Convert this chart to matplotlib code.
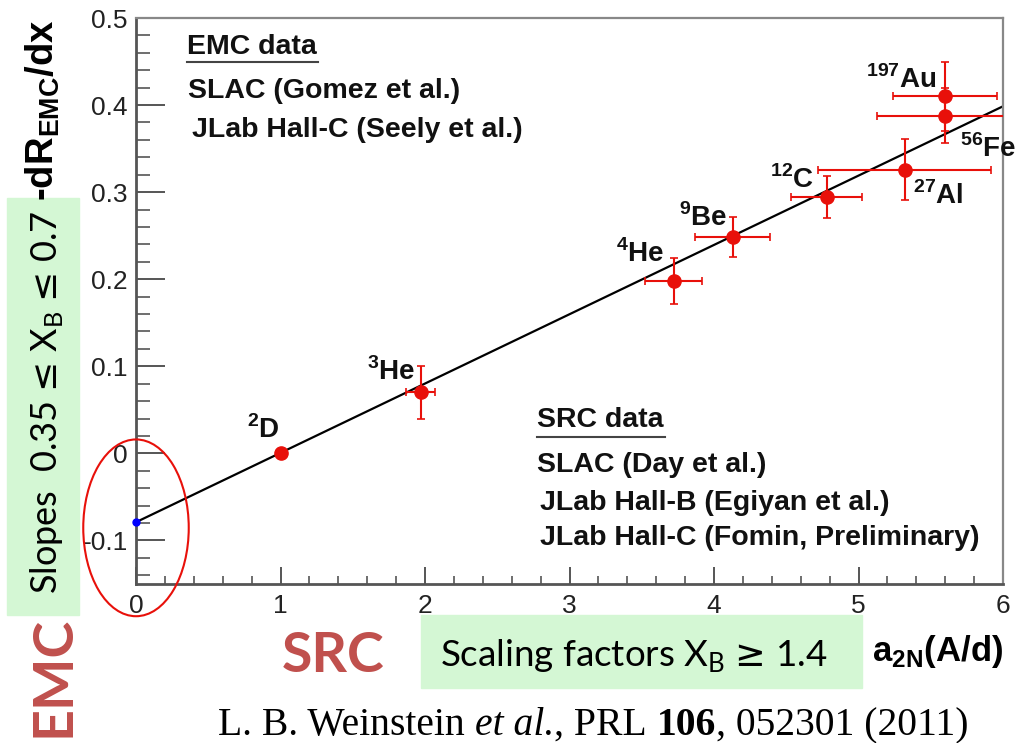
import numpy as np
import matplotlib.pyplot as plt
from matplotlib.patches import Ellipse, Rectangle
from matplotlib.lines import Line2D
from matplotlib.ticker import MultipleLocator, FuncFormatter

plt.rcParams['axes.unicode_minus'] = False
plt.rcParams['mathtext.fontset'] = 'custom'
plt.rcParams['mathtext.rm'] = 'Lato'
plt.rcParams['mathtext.sf'] = 'DejaVu Sans'
plt.rcParams['mathtext.bf'] = 'Liberation Sans:bold'

# дані: a2N (вісь x) і нахил EMC (вісь y)
nuclei = [r'$^{\mathbf{2}}$D', r'$^{\mathbf{3}}$He', r'$^{\mathbf{4}}$He', r'$^{\mathbf{9}}$Be',
          r'$^{\mathbf{12}}$C', r'$^{\mathbf{27}}$Al', r'$^{\mathbf{56}}$Fe', r'$^{\mathbf{197}}$Au']
a2n = [1.0, 1.97, 3.72, 4.13, 4.78, 5.32, 5.60, 5.60]
a2n_err = [0.0, 0.10, 0.20, 0.26, 0.245, 0.60, 0.47, 0.36]
emc_slope = [0.0, 0.070, 0.198, 0.248, 0.294, 0.326, 0.388, 0.410]
emc_slope_err = [0.0, 0.030, 0.026, 0.023, 0.024, 0.035, 0.032, 0.040]
fit_intercept = -0.079
fit_slope = 0.0796

# де стоять підписи ядер (у координатах даних)
label_pos = [(0.77, 0.018), (1.60, 0.084), (3.32, 0.2195), (3.76, 0.261),
             (4.39, 0.305), (5.38, 0.286), (5.70, 0.340), (5.05, 0.420)]

W, H = 1019, 743
RED = '#E8100A'
BRICK = '#C0504D'
GREEN = '#D4F7D4'


def fx(px):
    return px / W


def fy(py):
    return 1 - py / H


fig = plt.figure(figsize=(W / 100, H / 100), dpi=100)
ax = fig.add_axes([fx(136), fy(584), (1003 - 136) / W, (584 - 18) / H])

xs = np.array([0.0, 6.0])
ax.plot(xs, fit_intercept + fit_slope * xs, color='black', lw=1.6, zorder=2)
ax.errorbar(a2n, emc_slope, xerr=a2n_err, yerr=emc_slope_err, fmt='o', color=RED,
            ms=9.5, elinewidth=1.5, capsize=3, capthick=1.2, zorder=3)
ax.plot([0], [fit_intercept], 'o', color='blue', ms=5, clip_on=False, zorder=4)
ax.add_patch(Ellipse((0, -0.0855), 0.73, 0.203, fill=False, ec='#E8100A', lw=1.5,
                     clip_on=False, zorder=5))

for lab, (lx, ly) in zip(nuclei, label_pos):
    ax.text(lx, ly, lab, fontsize=20, fontweight='bold', family='Liberation Sans',
            ha='left', va='baseline', color='#111111', clip_on=False)

ax.set_xlim(0, 6)
ax.set_ylim(-0.15, 0.5)
ax.xaxis.set_major_locator(MultipleLocator(1))
ax.xaxis.set_minor_locator(MultipleLocator(0.2))
ax.yaxis.set_major_locator(MultipleLocator(0.1))
ax.yaxis.set_minor_locator(MultipleLocator(0.02))
fmt = FuncFormatter(lambda v, _: f'{v:g}' if abs(v) > 1e-9 else '0')
ax.xaxis.set_major_formatter(fmt)
ax.yaxis.set_major_formatter(fmt)
ax.tick_params(axis='y', which='major', direction='in', length=21, width=1.4, color='#555555',
               labelsize=19, labelcolor='#222222', pad=6)
ax.tick_params(axis='y', which='minor', direction='in', length=10, width=1.2, color='#555555')
ax.tick_params(axis='x', which='major', direction='in', length=12, width=1.4, color='#555555',
               labelsize=19, labelcolor='#222222', pad=7)
ax.tick_params(axis='x', which='minor', direction='in', length=6, width=1.2, color='#555555')
for lab in ax.get_xticklabels() + ax.get_yticklabels():
    lab.set_family('Liberation Sans')
for s in ['left', 'bottom']:
    ax.spines[s].set_color('#555555')
    ax.spines[s].set_linewidth(2)
for s in ['top', 'right']:
    ax.spines[s].set_color('#888888')
    ax.spines[s].set_linewidth(1.6)

# легенди-написи
leg = dict(fontsize=20.5, fontweight='bold', family='Liberation Sans', color='#111111',
           ha='left', va='baseline')
fig.text(fx(187), fy(54), 'EMC data', **leg)
fig.text(fx(188), fy(98), 'SLAC (Gomez et al.)', **leg)
fig.text(fx(192), fy(137), 'JLab Hall-C (Seely et al.)', **leg)
fig.add_artist(Line2D([fx(187), fx(318)], [fy(62), fy(62)], color='#444444', lw=1.5))
fig.text(fx(537), fy(427), 'SRC data', **leg)
fig.text(fx(537), fy(472), 'SLAC (Day et al.)', **leg)
fig.text(fx(540), fy(510), 'JLab Hall-B (Egiyan et al.)', **leg)
fig.text(fx(540), fy(545), 'JLab Hall-C (Fomin, Preliminary)', **leg)
fig.add_artist(Line2D([fx(537), fx(665)], [fy(437), fy(437)], color='#444444', lw=1.5))

# підписи осей
fig.text(fx(54), fy(201), r'-dR$_{\mathbf{EMC}}$/dx', fontsize=27.5, fontweight='bold',
         family='Liberation Sans', rotation=90, rotation_mode='anchor', ha='left', va='baseline')
fig.text(fx(872), fy(661), r'a$_{\mathbf{2N}}$(A/d)', fontsize=25, fontweight='bold',
         family='Liberation Sans', ha='left', va='baseline')

# зелені плашки
fig.add_artist(Rectangle((fx(7), fy(615)), 72 / W, (615 - 198) / H, transform=fig.transFigure,
                         color=GREEN, zorder=0))
fig.add_artist(Rectangle((fx(421), fy(688)), (862 - 421) / W, (688 - 615) / H,
                         transform=fig.transFigure, color=GREEN, zorder=0))
fig.text(fx(57), fy(594), r'Slopes  0.35 $\mathsf{≤}$ X$_\mathrm{B}$ $\mathsf{≤}$ 0.7',
         fontsize=26, family=['Lato', 'DejaVu Sans'], rotation=90, rotation_mode='anchor',
         ha='left', va='baseline', color='black')
fig.text(fx(440), fy(667), r'Scaling factors X$_\mathrm{B}$ $\mathsf{≥}$ 1.4', fontsize=26.5,
         family=['Lato', 'DejaVu Sans'], ha='left', va='baseline', color='black')

fig.text(fx(70), fy(737), 'EMC', fontsize=40, fontweight='bold', family='Lato', color=BRICK,
         rotation=90, rotation_mode='anchor', ha='left', va='baseline')
fig.text(fx(282), fy(672), 'SRC', fontsize=40, fontweight='bold', family='Lato', color=BRICK,
         ha='left', va='baseline')

# посилання на статтю, шматками різного стилю
r = fig.canvas.get_renderer()
pieces = [('L. B. Weinstein', 'normal', 'normal', 0), ('et al.', 'italic', 'normal', 1),
          (', PRL', 'normal', 'normal', 0), ('106', 'normal', 'bold', 1),
          (', 052301 (2011)', 'normal', 'normal', 0)]
cfs = 28.5
space = 0.25 * cfs * 100 / 72
x = 218
for s, st, wt, gap in pieces:
    x += gap * space
    t = fig.text(fx(x), fy(735), s, fontsize=cfs, family='Liberation Serif', style=st,
                 fontweight=wt, ha='left', va='baseline')
    x += t.get_window_extent(r).width

fig.savefig('out.png', dpi=100)
